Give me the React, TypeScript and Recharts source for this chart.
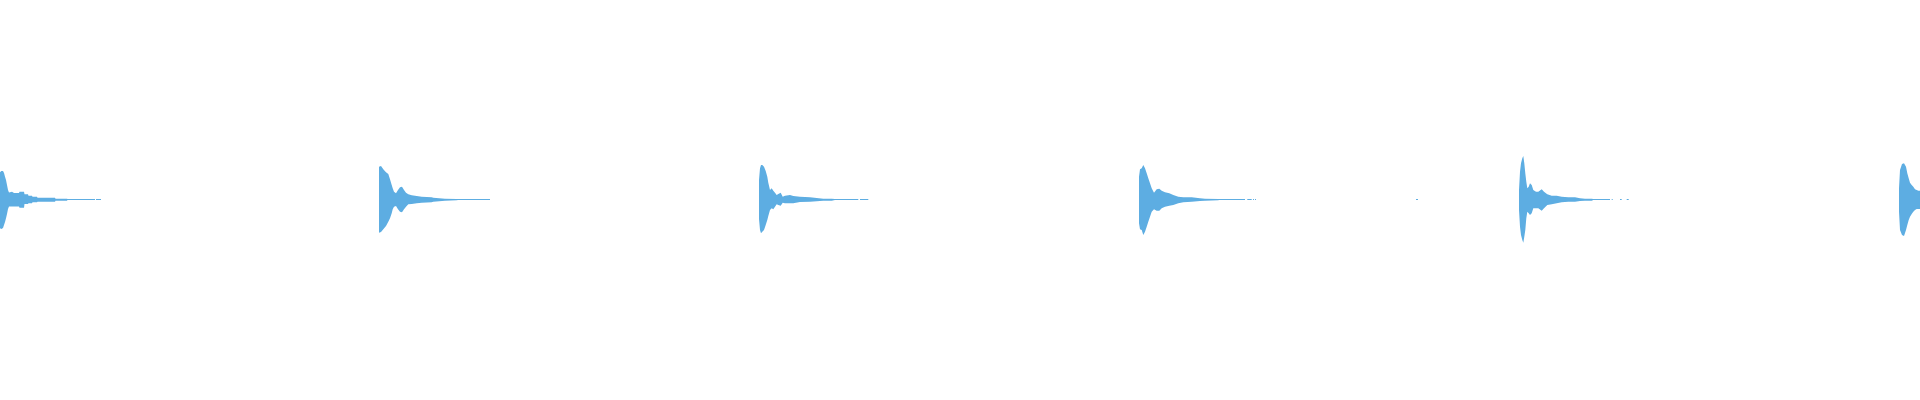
import React from "react";
import { AreaChart, Area, XAxis, YAxis } from "recharts";

// Pulse onsets (sample position in px-columns)
const pulseOnsets = [0, 379, 759, 1139, 1519, 1899];

// Envelope per pulse: [offset, top, bottom]
const pulse1: [number, number, number][] = [
  [0, 27.7, -28.3], [1.3, 29, -29], [3, 29, -28], [4, 27, -25], [5, 23.3, -22], [6, 20, -18.3],
  [7, 15, -14], [8, 10, -9], [9, 7.5, -6.5], [12, 8.3, -6.5], [14, 7, -6.5], [19, 7, -6.5],
  [19.5, 8.3, -7.7], [24, 8.3, -7.7], [24.5, 5.7, -4], [28, 5.7, -4], [28.5, 4.3, -3.3], [32, 4.3, -3.3],
  [32.5, 3.3, -2.3], [37, 3.3, -2.3], [37.5, 2.3, -1.7], [55, 2.3, -1.7], [55.5, 1.3, -0.7], [67, 1.3, -0.7],
  [67.5, 1, 0], [95, 1, 0],
];
const pulse2: [number, number, number][] = [
  [0, 33.3, -32.7], [2, 34, -32], [4.3, 30.7, -29.3], [7, 27.7, -26], [9.3, 26, -21.7], [11, 20.7, -18.3],
  [12.7, 15, -13.3], [13.7, 11.7, -9.3], [15, 8.3, -6.7], [17, 6.7, -6], [19, 10, -9.3], [21, 12.7, -11.7],
  [23, 13.3, -12.3], [25, 10, -9.3], [27, 7.3, -6.7], [29.3, 5.7, -4.3], [32.7, 4.7, -4], [37.7, 4, -3.3],
  [42.7, 3.3, -2.7], [52.7, 2.7, -2.3], [54.3, 2.3, -1.7], [66, 1.3, -0.7], [77.7, 1, -0.3], [79, 1, 0], [111, 1, 0],
];
const pulse3: [number, number, number][] = [
  [0, 20, -19], [1, 31.7, -30], [2, 35, -33.3], [3.3, 35, -31.7], [5, 33.3, -30], [6.7, 29, -25],
  [8.3, 23.3, -20], [9.3, 17.3, -16], [11, 10, -10], [12.7, 11.7, -8.3], [14.3, 9.3, -9.3], [16, 7.3, -6.7],
  [17.7, 5, -4.3], [19.3, 6, -5], [21.7, 7.3, -5.7], [23.7, 3.3, -2.7], [26, 4.3, -3.3], [31, 5, -3.3],
  [34.3, 4, -3.3], [41, 3.3, -2], [51, 2.7, -1.7], [57.7, 2, -1.3], [64.3, 1.3, -0.7], [72.7, 1.3, -0.7],
  [76, 1, 0], [99.3, 1, 0],
];
const pulse4: [number, number, number][] = [
  [0, 23.3, -23.3], [1, 30.7, -29.3], [2.7, 31.7, -30], [4.3, 35, -35], [6, 31.7, -31.7], [7.7, 26.7, -26.7],
  [9.3, 21.7, -21.7], [11, 16.7, -16.7], [12.7, 11.7, -11.7], [15, 7.3, -9.3], [17.7, 10.7, -10.7],
  [20.3, 11.3, -10.7], [22.7, 9.3, -8.3], [26, 7.7, -6.7], [30.3, 6.7, -5.7], [34.3, 5, -5], [39.3, 3.3, -3.3],
  [44.3, 2.7, -2.3], [52.7, 2.7, -1.7], [61, 1.7, -1], [66, 1.3, -0.7], [79.3, 1, -0.3], [80, 1, 0], [106, 1, 0],
];
const pulse5: [number, number, number][] = [
  [0, 10, -10], [1, 28.3, -26.7], [2, 36.7, -35], [3.3, 41.7, -40], [4.3, 44, -42.7], [5.3, 36.7, -36.7],
  [6.3, 26.7, -30], [7.3, 18.3, -18.3], [8.3, 11.7, -11.7], [9.7, 13.3, -13.3], [11, 16.7, -15],
  [12.7, 15, -13.3], [14.3, 10, -8.3], [17, 8.3, -8.3], [19.3, 8.3, -8.3], [22.7, 10.7, -10.7], [25, 8.3, -8.3],
  [28.3, 5.7, -5], [32.7, 4.3, -4.3], [37.7, 4.3, -3.3], [42.7, 3.3, -2.3], [49.3, 2.7, -1.7], [56, 2.7, -1.7],
  [61, 1.7, -1], [66, 1.3, -0.7], [72.7, 1.3, -0.7], [74.3, 1, 0], [91, 1, 0],
];
const pulse6: [number, number, number][] = [
  [0, 11.7, -11.7], [1, 30, -30], [3, 36, -35], [5, 36.7, -36], [7, 33.3, -30], [8.3, 26.7, -25],
  [9.7, 21.7, -20], [11, 17.3, -16.7], [12.7, 15, -14], [14.3, 13.3, -11.7], [16, 10.7, -10],
  [17.7, 10, -9], [19.3, 9.3, -9], [21, 9.3, -9],
];
const pulses = [pulse1, pulse2, pulse3, pulse4, pulse5, pulse6];

// Thin tail fragments after each pulse: [startOffset, endOffset]
const tail1: [number, number][] = [[96, 101]];
const tail2: [number, number][] = [];
const tail3: [number, number][] = [[101, 109.3]];
const tail4: [number, number][] = [[108.3, 112.7], [114, 115], [116, 117]];
const tail5: [number, number][] = [[92.7, 93.7], [101, 102.7], [107.7, 109.7]];
const tail6: [number, number][] = [];
const tails = [tail1, tail2, tail3, tail4, tail5, tail6];

// Lone fragments between pulses: [start, end]
const loneFragments: [number, number][] = [[1416, 1418]];

type Row = { x: number; range: [number, number] | null };

const rows: Row[] = [];
const pushGap = (x: number) => rows.push({ x, range: null });
pulses.forEach((p, i) => {
  const on = pulseOnsets[i];
  p.forEach(([o, t, b]) => rows.push({ x: on + o, range: [b, t] }));
  pushGap(on + p[p.length - 1][0] + 0.2);
  tails[i].forEach(([s, e]) => {
    rows.push({ x: on + s, range: [0, 1] });
    rows.push({ x: on + e, range: [0, 1] });
    pushGap(on + e + 0.2);
  });
  if (i === 3) {
    loneFragments.forEach(([s, e]) => {
      rows.push({ x: s, range: [0, 1] });
      rows.push({ x: e, range: [0, 1] });
      pushGap(e + 0.2);
    });
  }
});

export default function App() {
  return (
    <div style={{ position: "absolute", left: 0, top: 0, width: 1920, height: 400, background: "#fff" }}>
      <AreaChart width={1920} height={400} data={rows} margin={{ top: 0, right: 0, bottom: 0, left: 0 }}>
        <XAxis type="number" dataKey="x" domain={[0, 1920]} hide allowDataOverflow />
        <YAxis type="number" domain={[-200, 200]} hide allowDataOverflow />
        <Area
          type="linear"
          dataKey="range"
          stroke="none"
          fill="#5DADE2"
          fillOpacity={1}
          connectNulls={false}
          isAnimationActive={false}
          dot={false}
          activeDot={false}
        />
      </AreaChart>
    </div>
  );
}
